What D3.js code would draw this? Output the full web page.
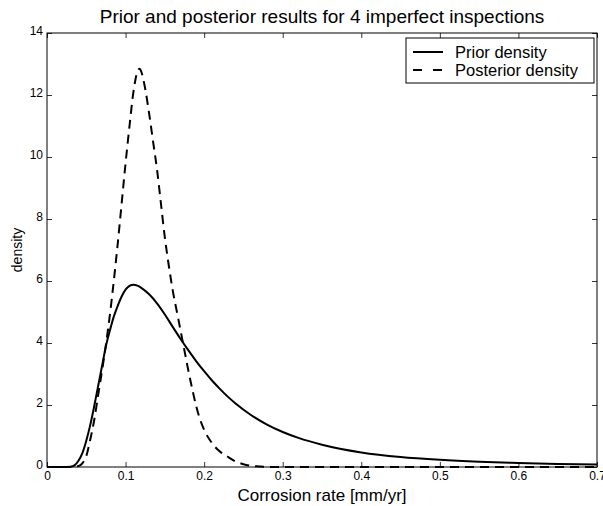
<!DOCTYPE html>
<html>
<head>
<meta charset="utf-8">
<script src="https://cdn.jsdelivr.net/npm/d3@7"></script>
<style>
  body { margin: 0; background: #fff; }
  text { font-family: "Liberation Sans", Arial, Helvetica, sans-serif; fill: #000; }
</style>
</head>
<body>
<svg id="chart" width="603" height="506"></svg>
<script>
// values
const priorX = [0, 0.02, 0.03, 0.035, 0.04, 0.045, 0.05, 0.055, 0.06, 0.065, 0.07, 0.075, 0.08, 0.085, 0.09, 0.095,
    0.10, 0.105, 0.11, 0.115, 0.12, 0.13, 0.14, 0.15, 0.16, 0.17, 0.18, 0.19, 0.20, 0.21, 0.22, 0.23, 0.24,
    0.26, 0.28, 0.30, 0.32, 0.35, 0.40, 0.45, 0.50, 0.55, 0.60, 0.65, 0.70];
const priorY = [0, 0, 0.01, 0.05, 0.2, 0.45, 0.85, 1.35, 1.95, 2.6, 3.25, 3.9, 4.4, 4.85, 5.2, 5.5,
    5.72, 5.84, 5.88, 5.85, 5.78, 5.57, 5.28, 4.92, 4.52, 4.13, 3.76, 3.41, 3.09, 2.79, 2.52, 2.27, 2.05,
    1.67, 1.37, 1.13, 0.94, 0.72, 0.47, 0.32, 0.23, 0.17, 0.13, 0.1, 0.08];

const postX = [0, 0.03, 0.04, 0.045, 0.05, 0.055, 0.06, 0.065, 0.07, 0.075, 0.08, 0.085, 0.09, 0.095,
    0.10, 0.105, 0.11, 0.115, 0.118, 0.12, 0.125, 0.13, 0.135, 0.14, 0.145, 0.15, 0.155, 0.16, 0.165,
    0.17, 0.175, 0.18, 0.185, 0.19, 0.195, 0.20, 0.21, 0.22, 0.23, 0.24, 0.25, 0.26, 0.27, 0.28, 0.30, 0.70];
const postY = [0, 0, 0.03, 0.12, 0.35, 0.88, 1.5, 2.3, 3.1, 3.95, 4.9, 6.0, 7.2, 8.5,
    9.8, 11.0, 12.1, 12.75, 12.85, 12.75, 12.2, 11.4, 10.5, 9.6, 8.5, 7.4, 6.5, 5.7, 5.05,
    4.4, 3.75, 3.1, 2.5, 1.95, 1.52, 1.2, 0.77, 0.5, 0.33, 0.18, 0.09, 0.04, 0.02, 0.005, 0, 0];

const xTicks = [0, 0.1, 0.2, 0.3, 0.4, 0.5, 0.6, 0.7];
const yTicks = [0, 2, 4, 6, 8, 10, 12, 14];
const seriesNames = ["Prior density", "Posterior density"];

const margin = { left: 47, top: 33, right: 6, bottom: 39 };
const width = 603, height = 506;
const plotW = width - margin.left - margin.right;
const plotH = height - margin.top - margin.bottom;

const svg = d3.select("#chart");
const g = svg.append("g").attr("transform", `translate(${margin.left},${margin.top})`);

const x = d3.scaleLinear().domain([0, 0.7]).range([0, plotW]);
const y = d3.scaleLinear().domain([0, 14]).range([plotH, 0]);

const fmtX = d => d === 0 ? "0" : d3.format(".1f")(d);

// ticks point inward on all four sides, like a matlab box
const xAxis = g.append("g")
    .attr("transform", `translate(0,${plotH})`)
    .call(d3.axisBottom(x).tickValues(xTicks).tickFormat(fmtX).tickSizeInner(-5).tickSizeOuter(0).tickPadding(7));
const xAxisTop = g.append("g")
    .call(d3.axisTop(x).tickValues(xTicks).tickFormat("").tickSizeInner(-5).tickSizeOuter(0));
const yAxis = g.append("g")
    .call(d3.axisLeft(y).tickValues(yTicks).tickSizeInner(-5).tickSizeOuter(0).tickPadding(4));
const yAxisRight = g.append("g")
    .attr("transform", `translate(${plotW},0)`)
    .call(d3.axisRight(y).tickValues(yTicks).tickFormat("").tickSizeInner(-5).tickSizeOuter(0));

[xAxis, xAxisTop, yAxis, yAxisRight].forEach(a => {
    a.select(".domain").remove();
    a.selectAll(".tick line").attr("stroke", "#000").attr("stroke-width", 0.8);
    a.selectAll("text").attr("font-size", 12).attr("font-family", "Liberation Sans, Arial, sans-serif").attr("fill", "#000");
});
xAxis.selectAll("text").attr("dy", "0.5em");
yAxis.selectAll("text").attr("dy", "0.1em");

g.append("rect")
    .attr("x", 0).attr("y", 0)
    .attr("width", plotW).attr("height", plotH)
    .attr("fill", "none").attr("stroke", "#000").attr("stroke-width", 1);

const line = d3.line().x(d => x(d[0])).y(d => y(d[1])).curve(d3.curveMonotoneX);

const priorData = priorX.map((v, i) => [v, priorY[i]]);
const postData = postX.map((v, i) => [v, postY[i]]);

g.append("path")
    .datum(postData)
    .attr("d", line)
    .attr("fill", "none")
    .attr("stroke", "#000")
    .attr("stroke-width", 2)
    .attr("stroke-dasharray", "9,6");

g.append("path")
    .datum(priorData)
    .attr("d", line)
    .attr("fill", "none")
    .attr("stroke", "#000")
    .attr("stroke-width", 2);

// legend
const legend = svg.append("g").attr("transform", "translate(406,38)");
legend.append("rect")
    .attr("width", 188).attr("height", 45)
    .attr("fill", "#fff").attr("stroke", "#000").attr("stroke-width", 1);
seriesNames.forEach((name, i) => {
    const ly = 14 + i * 18;
    legend.append("line")
        .attr("x1", 7).attr("x2", 37)
        .attr("y1", ly).attr("y2", ly)
        .attr("stroke", "#000").attr("stroke-width", 2)
        .attr("stroke-dasharray", i === 1 ? "9,11" : null);
    legend.append("text")
        .attr("x", 49).attr("y", ly)
        .attr("dy", "0.36em")
        .attr("font-size", 16.5)
        .text(name);
});

// title and axis labels
svg.append("text")
    .attr("x", margin.left + plotW / 2).attr("y", 23)
    .attr("text-anchor", "middle")
    .attr("font-size", 19)
    .text("Prior and posterior results for 4 imperfect inspections");

svg.append("text")
    .attr("x", margin.left + plotW / 2).attr("y", 501)
    .attr("text-anchor", "middle")
    .attr("font-size", 17)
    .text("Corrosion rate [mm/yr]");

svg.append("text")
    .attr("transform", `translate(22,${margin.top + plotH / 2}) rotate(-90)`)
    .attr("text-anchor", "middle")
    .attr("font-size", 14)
    .text("density");
</script>
</body>
</html>
